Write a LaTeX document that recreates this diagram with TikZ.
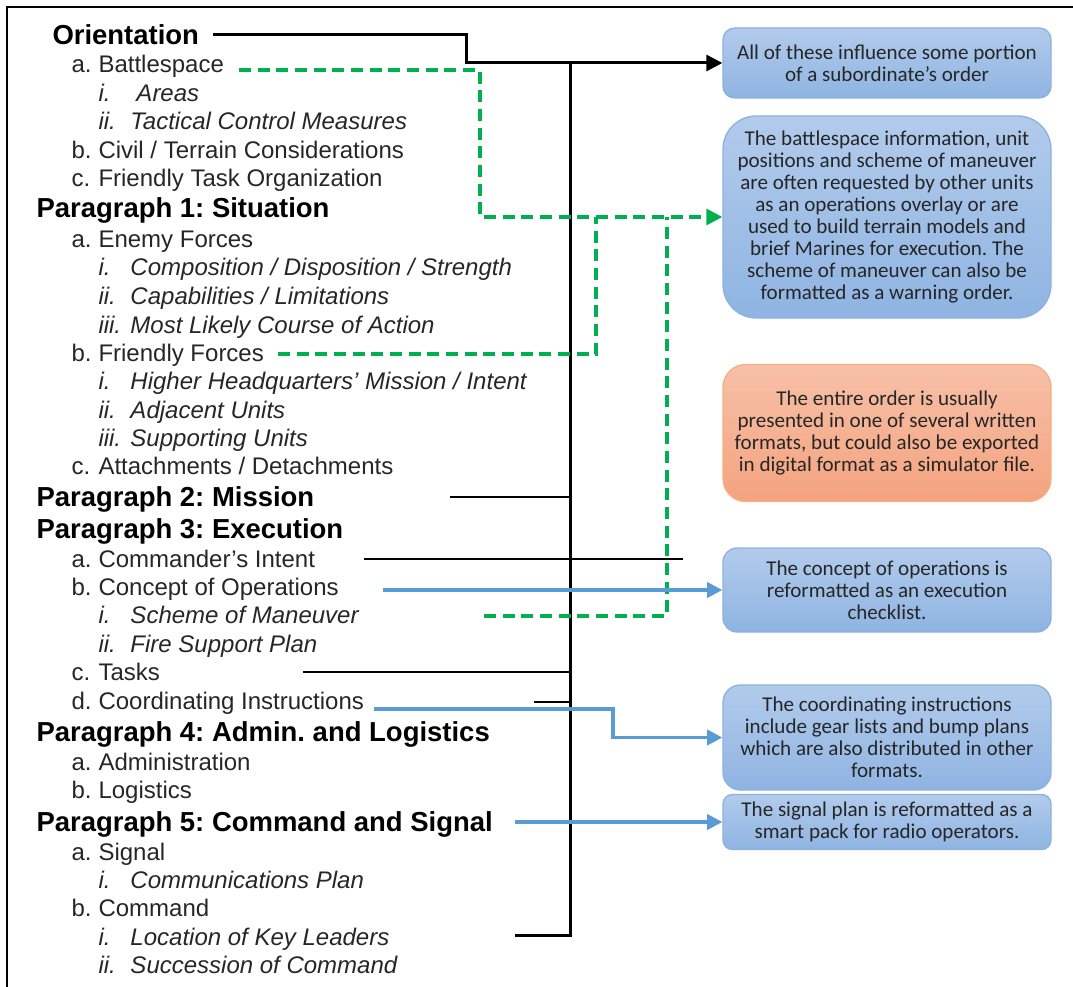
\documentclass[tikz,border=0pt]{standalone}
\usepackage{fontspec}
\setmainfont{Liberation Sans}
\newfontfamily\calfont{Carlito}
\usetikzlibrary{arrows.meta}
\frenchspacing

\definecolor{txtgrey}{RGB}{38,38,38}
\definecolor{lnblue}{RGB}{91,155,213}
\definecolor{lngreen}{RGB}{0,176,80}
\definecolor{boxtop}{RGB}{178,203,236}
\definecolor{boxbot}{RGB}{143,180,226}
\definecolor{boxline}{RGB}{140,178,225}
\definecolor{ortop}{RGB}{247,192,168}
\definecolor{orbot}{RGB}{244,163,126}
\definecolor{orline}{RGB}{244,176,131}

\newcommand{\itmA}[2]{\makebox[20.25pt][l]{#1}#2}
\newcommand{\itmB}[3][24pt]{\makebox[#1][l]{\itshape #2}{\itshape #3}}

\tikzset{every picture/.style={line width=0.75pt}}
\tikzset{
  head/.style={anchor=base west,inner sep=0pt,font=\fontsize{20.6}{24}\selectfont\bfseries},
  item/.style={anchor=base west,inner sep=0pt,text=txtgrey,font=\fontsize{18}{21}\selectfont},
  note/.style={draw=boxline,line width=1pt,top color=boxtop,bottom color=boxbot,
    minimum width=246pt,align=center,text=txtgrey,inner sep=2pt,
    font=\calfont\fontsize{15.8}{16.6}\selectfont},
  trunk/.style={line width=2.25pt},
  branch/.style={line width=2pt},
  greenln/.style={draw=lngreen,line width=2.3pt,dash pattern=on 9pt off 5pt},
  blueln/.style={draw=lnblue,line width=2.4pt}
}

\begin{document}
\begin{tikzpicture}[x=0.75pt,y=0.75pt,yscale=-1,xscale=1]
\path[use as bounding box] (0,0) rectangle (1073,987);

%Frame
\draw [line width=1.8pt] (7,987) -- (7,7) -- (1073,7) ;

%Shape: Rounded Rect
\node[note,minimum height=52.5pt,rounded corners=8.75pt] (box1) at (887,63)
  {All of these influence some portion\\of a subordinate’s order};
\node[note,minimum height=151.5pt,rounded corners=25pt] (box2) at (887,217)
  {The battlespace information, unit\\positions and scheme of maneuver\\are often requested by other units\\as an operations overlay or are\\used to build terrain models and\\brief Marines for execution. The\\scheme of maneuver can also be\\formatted as a warning order.};
\node[note,draw=orline,top color=ortop,bottom color=orbot,minimum height=102.75pt,rounded corners=17pt] (box3) at (887,433)
  {The entire order is usually\\presented in one of several written\\formats, but could also be exported\\in digital format as a simulator file.};
\node[note,minimum height=63pt,rounded corners=10.5pt] (box4) at (887,590)
  {The concept of operations is\\reformatted as an execution\\checklist.};
\node[note,minimum height=78.75pt,rounded corners=13pt] (box5) at (887,737.5)
  {The coordinating instructions\\include gear lists and bump plans\\which are also distributed in other\\formats.};
\node[note,minimum height=41.25pt,rounded corners=7pt] (box6) at (887,822)
  {The signal plan is reformatted as a\\smart pack for radio operators.};

% Text Node
\node[head] (orient) at (52,45) {Orientation};
\node[item] (battle) at (71,73) {\itmA{a.}{Battlespace}};
\node[item] (areas) at (98,102) {\itmB[28.5pt]{i.}{Areas}};
\node[item] (tcm) at (98,130) {\itmB{ii.}{Tactical Control Measures}};
\node[item] (civil) at (71,159) {\itmA{b.}{Civil / Terrain Considerations}};
\node[item] (fto) at (71,187) {\itmA{c.}{Friendly Task Organization}};
\node[head] (par1) at (36,218) {Paragraph 1: Situation};
\node[item] (enemy) at (71,248) {\itmA{a.}{Enemy Forces}};
\node[item] (comp) at (98,276) {\itmB{i.}{Composition / Disposition / Strength}};
\node[item] (capab) at (98,305) {\itmB{ii.}{Capabilities / Limitations}};
\node[item] (mlcoa) at (98,333) {\itmB{iii.}{Most Likely Course of Action}};
\node[item] (friendly) at (71,361) {\itmA{b.}{Friendly Forces}};
\node[item] (hhq) at (98,389) {\itmB{i.}{Higher Headquarters’ Mission / Intent}};
\node[item] (adj) at (98,418) {\itmB{ii.}{Adjacent Units}};
\node[item] (supp) at (98,446) {\itmB{iii.}{Supporting Units}};
\node[item] (attach) at (71,474) {\itmA{c.}{Attachments / Detachments}};
\node[head] (par2) at (36,506) {Paragraph 2: Mission};
\node[head] (par3) at (36,538) {Paragraph 3: Execution};
\node[item] (intent) at (71,567) {\itmA{a.}{Commander’s Intent}};
\node[item] (conops) at (71,595) {\itmA{b.}{Concept of Operations}};
\node[item] (scheme) at (98,623) {\itmB{i.}{Scheme of Maneuver}};
\node[item] (fsp) at (98,652) {\itmB{ii.}{Fire Support Plan}};
\node[item] (tasks) at (71,680) {\itmA{c.}{Tasks}};
\node[item] (coord) at (71,709) {\itmA{d.}{Coordinating Instructions}};
\node[head] (par4) at (36,741) {Paragraph 4: Admin. and Logistics};
\node[item] (admin) at (71,770) {\itmA{a.}{Administration}};
\node[item] (logist) at (71,798) {\itmA{b.}{Logistics}};
\node[head] (par5) at (36,831) {Paragraph 5: Command and Signal};
\node[item] (signal) at (71,860) {\itmA{a.}{Signal}};
\node[item] (comms) at (98,888) {\itmB{i.}{Communications Plan}};
\node[item] (command) at (71,916) {\itmA{b.}{Command}};
\node[item] (keyldr) at (98,945) {\itmB{i.}{Location of Key Leaders}};
\node[item] (succ) at (98,973) {\itmB{ii.}{Succession of Command}};

% line starts
\coordinate (orientS) at (213,35);
\coordinate (trunkT) at (570,63);
\coordinate (keyS) at (515,935);
\coordinate (par2S) at (450,497);
\coordinate (intentS) at (364,559);
\coordinate (intentE) at (683,559);
\coordinate (tasksS) at (303,672);
\coordinate (coordK) at (534,702);
\coordinate (battleS) at (239,70);
\coordinate (friendS) at (278,354);
\coordinate (schemeS) at (484,616);
\coordinate (conopsS) at (383,590);
\coordinate (coordS) at (374,709);
\coordinate (par5S) at (515,822);

%Straight Lines
\draw [trunk,-{Triangle[length=12pt,width=12pt]}] (orientS) -- (466,35) |- (box1.west) ;
\draw [trunk] (trunkT) |- (keyS) ;
\draw [branch] (par2S) -- (par2S -| trunkT) ;
\draw [branch] (intentS) -- (intentE) ;
\draw [branch] (tasksS) -- (tasksS -| trunkT) ;
\draw [branch] (coordK) -- (coordK -| trunkT) ;

%Dashed Lines
\draw [greenln] (friendS) -| (596,217) ;
\draw [greenln] (schemeS) -| (667,217) ;
\draw [greenln,-{Triangle[length=12pt,width=12pt]}] (battleS) -- (480,70) |- (box2.west) ;

%Blue Lines
\draw [blueln,-{Triangle[length=11.5pt,width=11.5pt]}] (conopsS) -- (box4.west) ;
\draw [blueln,-{Triangle[length=11.5pt,width=11.5pt]}] (coordS) -- (613,709) |- (box5.west) ;
\draw [blueln,-{Triangle[length=11.5pt,width=11.5pt]}] (par5S) -- (box6.west) ;

\end{tikzpicture}
\end{document}
